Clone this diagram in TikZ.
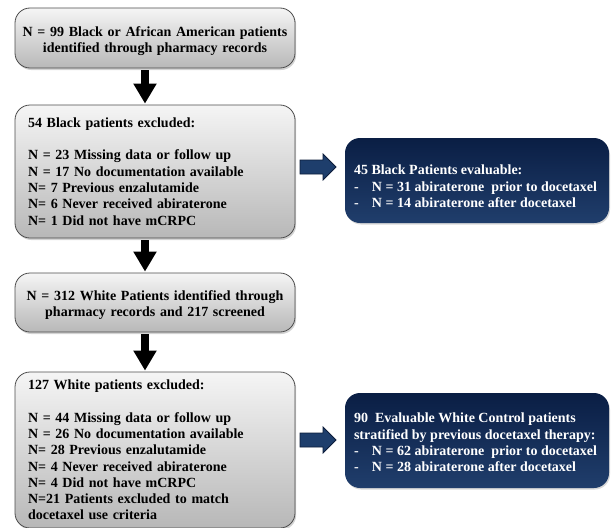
\documentclass[tikz,border=0pt]{standalone}
\usepackage{fontspec}
\setmainfont{Liberation Serif}
\usetikzlibrary{shadows,arrows.meta}
\definecolor{navyA}{RGB}{10,30,68}
\definecolor{navyB}{RGB}{32,62,108}
\definecolor{arrowblue}{RGB}{30,62,108}
\definecolor{arrowedge}{RGB}{12,28,58}
\begin{document}
\begin{tikzpicture}[x=1pt,y=-1pt,
  txt/.style={font=\fontsize{14}{16.3}\selectfont\bfseries},
  gbox/.style={txt, draw=black!70, line width=0.8pt, rounded corners=15pt,
    top color=black!4, bottom color=black!28,
    drop shadow={opacity=0.35, shadow xshift=1.2pt, shadow yshift=-2pt},
    minimum width=280pt, text width=254pt, inner xsep=13pt, inner ysep=0pt},
  gboxc/.style={gbox, text width=270pt, inner xsep=5pt, align=center},
  bbox/.style={rounded corners=15pt, top color=navyA, bottom color=navyB,
    drop shadow={opacity=0.3, shadow xshift=1pt, shadow yshift=-1.5pt},
    minimum width=264pt, inner sep=0pt},
  btext/.style={txt, text=white, align=left, inner sep=0pt, anchor=west},
  barrow/.style={line width=8pt, black, -{Triangle[width=22pt,length=20pt]}, shorten <=2pt, shorten >=1pt},
  bluearr/.style={fill=arrowblue, draw=arrowedge, line width=0.8pt, line join=miter}
]
\useasboundingbox (0,0) rectangle (612,527);

% grey boxes
\node[gboxc, minimum height=60pt] (b1) at (155,38)
  {\rule{0pt}{16pt}N = 99 Black or African American patients\\identified through pharmacy records};
\node[gbox, minimum height=133pt, align=left] (b2) at (155,171.5)
  {54 Black patients excluded:\\[16.3pt]
   N = 23 Missing data or follow up\\
   N = 17 No documentation available\\
   N= 7 Previous enzalutamide\\
   N= 6 Never received abiraterone\\
   N= 1 Did not have mCRPC};
\node[gboxc, minimum height=59pt] (b3) at (155,302.5)
  {\rule{0pt}{15pt}N = 312 White Patients identified through\\pharmacy records and 217 screened};
\node[gbox, minimum height=156pt, align=left] (b4) at (155,450)
  {127 White patients excluded:\\[16.3pt]
   N = 44 Missing data or follow up\\
   N = 26 No documentation available\\
   N= 28 Previous enzalutamide\\
   N= 4 Never received abiraterone\\
   N= 4 Did not have mCRPC\\
   N=21 Patients excluded to match\\
   docetaxel use criteria};

% black arrows
\draw[barrow] ([xshift=-10pt]b1.south) -- ([xshift=-10pt]b2.north);
\draw[barrow] ([xshift=-10pt]b2.south) -- ([xshift=-10pt]b3.north);
\draw[barrow] ([xshift=-10pt]b3.south) -- ([xshift=-10pt]b4.north);

% blue boxes
\node[bbox, minimum height=85pt] (bl1) at (477,180.5) {};
\node[btext] (bl1t) at ([xshift=9pt,yshift=-6pt]bl1.west)
  {45 Black Patients evaluable:\\
   \makebox[18pt][l]{-}N = 31 abiraterone\ \ prior to docetaxel\\
   \makebox[18pt][l]{-}N = 14 abiraterone after docetaxel};
\node[bbox, minimum height=95pt] (bl2) at (477,440.5) {};
\node[btext] (bl2t) at ([xshift=9pt,yshift=-2pt]bl2.west)
  {90\ \ Evaluable White Control patients\\
   stratified by previous docetaxel therapy:\\
   \makebox[18pt][l]{-}N = 62 abiraterone\ \ prior to docetaxel\\
   \makebox[18pt][l]{-}N = 28 abiraterone after docetaxel};

% blue block arrows
\coordinate (a1) at (300,167);
\coordinate (a2) at (300,440);
\foreach \c in {a1,a2}{
  \draw[bluearr] (\c) ++(0,-7) -- ++(23,0) -- ++(0,-6) -- ++(13,13) -- ++(-13,13) -- ++(0,-6) -- ++(-23,0) -- cycle;
}
\end{tikzpicture}
\end{document}
